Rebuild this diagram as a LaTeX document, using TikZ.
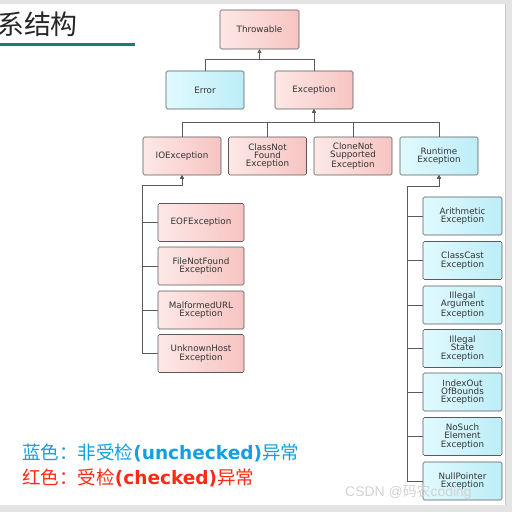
\documentclass[tikz,border=0pt]{standalone}
\usepackage{fontspec}
\setmainfont{DejaVu Sans}
\newfontfamily\cjk{Noto Sans CJK SC}
\newfontfamily\boxfnt{DejaVu Sans}
\newfontfamily\wmfnt{Liberation Sans}
\usetikzlibrary{arrows.meta,calc}
\definecolor{pinkA}{HTML}{FDE8E6}
\definecolor{pinkB}{HTML}{F6C4C2}
\definecolor{blueA}{HTML}{E0FAFE}
\definecolor{blueB}{HTML}{BDEDF7}
\definecolor{edgeC}{HTML}{5A5A5A}
\definecolor{txtC}{HTML}{333333}
\definecolor{tealC}{HTML}{1B7B78}
\definecolor{legBlue}{HTML}{12A0E0}
\definecolor{legRed}{HTML}{FF2A14}
\definecolor{frameC}{HTML}{E4E4E4}
\tikzset{
  box/.style={draw=edgeC, line width=0.6pt, rounded corners=1.5bp, minimum height=38bp,
    minimum width=78bp, align=center, text=txtC, inner sep=1bp,
    font=\boxfnt\fontsize{8.8}{8.4}\selectfont},
  chk/.style={box, left color=pinkA, right color=pinkB},
  unchk/.style={box, left color=blueA, right color=blueB},
  arr/.style={draw=edgeC, line width=0.7pt, -{Triangle[open,length=3.5bp,width=3.5bp]}},
}
\begin{document}
\begin{tikzpicture}[x=1bp,y=-1bp]
\useasboundingbox (0,0) rectangle (512,512);
\fill[frameC] (0,0) rectangle (512,512);
\fill[white] (0,4) rectangle (505,505);
\draw[gray!45, line width=1pt] (505.5,4) -- (505.5,505);
% title
\node[anchor=west, inner sep=0, font=\cjk\fontsize{27}{27}\selectfont, text=black!85] (title) at (-3,24) {系结构};
\draw[tealC, line width=3bp] (0,45) -- (135,45);
% nodes
\node[chk, minimum width=79bp, minimum height=39bp] (thr) at (259.5,29.5) {Throwable};
\node[unchk] (err) at (205,90) {Error};
\node[chk] (exc) at (314,90) {Exception};
\node[chk] (io) at (182,156) {IOException};
\node[chk] (cnf) at (267.5,156) {ClassNot\\Found\\Exception};
\node[chk] (cns) at (353,156) {CloneNot\\Supported\\Exception};
\node[unchk] (rt) at (439,156) {Runtime\\Exception};
\node[chk, minimum width=86bp] (eof) at (201,222.5) {EOFException};
\node[chk, minimum width=86bp] (fnf) at (201,266) {FileNotFound\\Exception};
\node[chk, minimum width=86bp] (mal) at (201,310) {MalformedURL\\Exception};
\node[chk, minimum width=86bp] (unk) at (201,353.5) {UnknownHost\\Exception};
\node[unchk, minimum width=79bp] (ari) at (462.5,216) {Arithmetic\\Exception};
\node[unchk, minimum width=79bp] (cce) at (462.5,260.5) {ClassCast\\Exception};
\node[unchk, minimum width=79bp] (iae) at (462.5,305) {Illegal\\Argument\\Exception};
\node[unchk, minimum width=79bp] (ise) at (462.5,348.5) {Illegal\\State\\Exception};
\node[unchk, minimum width=79bp] (ioob) at (462.5,392) {IndexOut\\OfBounds\\Exception};
\node[unchk, minimum width=79bp] (nse) at (462.5,436.5) {NoSuch\\Element\\Exception};
\node[unchk, minimum width=79bp] (npe) at (462.5,481) {NullPointer\\Exception};
% bus coordinates
\coordinate (iobus) at (142,185);
\coordinate (rtbus) at (407,186);
% connectors
\draw[arr] (err.north) -- ++(0,-11) -| (thr.south);
\draw[arr] (exc.north) -- ++(0,-11) -| (thr.south);
\foreach \n in {io,cnf,cns,rt}{
  \draw[arr] (\n.north) -- ++(0,-14) -| (exc.south);
}
\foreach \n in {eof,fnf,mal,unk}{
  \draw[arr] (\n.west) -| (iobus) -| (io.south);
}
\foreach \n in {ari,cce,iae,ise,ioob,nse,npe}{
  \draw[arr] (\n.west) -| (rtbus) -| (rt.south);
}
% legend
\node[anchor=west, inner sep=0, text=legBlue, font=\fontsize{18.6}{19}\selectfont] (leg1) at (22,453)
  {{\cjk 蓝色：非受检}\textbf{(unchecked)}{\cjk 异常}};
\node[anchor=west, inner sep=0, text=legRed, font=\fontsize{18.6}{19}\selectfont] (leg2) at (22,478)
  {{\cjk 红色：受检}\textbf{(checked)}{\cjk 异常}};
% watermark
\node[anchor=west, inner sep=0, text=gray!35, font=\fontsize{14}{14}\selectfont] (wm) at (345,492)
  {{\wmfnt CSDN @}{\cjk 码农}{\wmfnt coding}};
\end{tikzpicture}
\end{document}
